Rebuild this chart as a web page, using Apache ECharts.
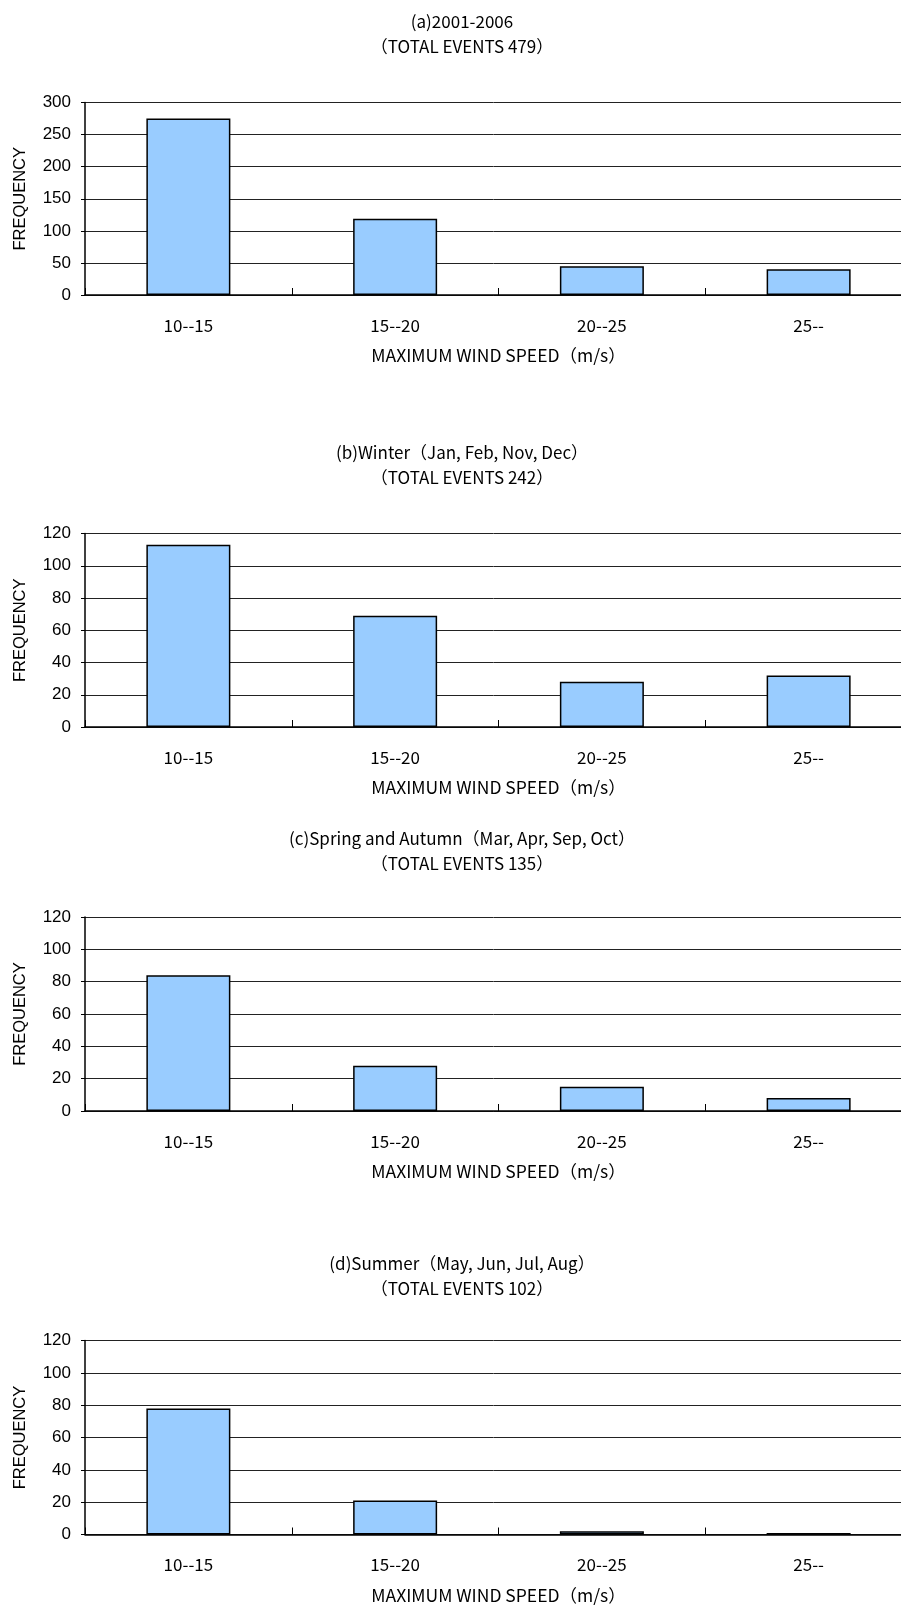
<!DOCTYPE html>
<html>
<head>
<meta charset="utf-8">
<script src="https://cdn.jsdelivr.net/npm/echarts@6/dist/echarts.min.js"></script>
<style>
  html, body { margin: 0; padding: 0; background: #fff; }
  #chart { width: 901px; height: 1606px; }
</style>
</head>
<body>
<div id="chart"></div>
<script>
// Wind-speed classes shared by all four panels
const categories = ['10--15', '15--20', '20--25', '25--'];

// Event counts per class
const allYears = [275, 119, 45, 40];
const winter = [113, 69, 28, 32];
const springAutumn = [84, 28, 15, 8];
const summer = [78, 21, 2, 1];

// Panel headings and totals
const panelTitles = [
  '(a)2001-2006',
  '(b)Winter（Jan, Feb, Nov, Dec）',
  '(c)Spring and Autumn（Mar, Apr, Sep, Oct）',
  '(d)Summer（May, Jun, Jul, Aug）'
];
const totalEvents = [479, 242, 135, 102];

// Y scales
const yMax = [300, 120, 120, 120];
const yStep = [50, 20, 20, 20];

const xName = 'MAXIMUM WIND SPEED（m/s）';
const yName = 'FREQUENCY';

const seriesData = [allYears, winter, springAutumn, summer];

// Panel placement (pixels); the plot runs past the right edge of the page
const gridTops = [102.5, 533.5, 917, 1340.5];
const gridHeights = [192.5, 193.5, 194, 194];
const titleTops = [4, 435, 821, 1246];

const jpFont = '"Noto Sans CJK JP", "Noto Sans", sans-serif';
const latinFont = '"Liberation Sans", Arial, sans-serif';

const chart = echarts.init(document.getElementById('chart'), null, { renderer: 'canvas' });

const option = {
  backgroundColor: '#ffffff',
  animation: false,
  title: panelTitles.map((t, i) => ({
    text: t + '\n（TOTAL EVENTS ' + totalEvents[i] + '）',
    left: 457,
    top: titleTops[i],
    textAlign: 'center',
    textStyle: {
      fontFamily: jpFont,
      fontSize: 17,
      fontWeight: 'normal',
      color: '#000',
      lineHeight: 25
    }
  })),
  grid: gridTops.map((top, i) => ({
    left: 85,
    top: top,
    width: 827,
    height: gridHeights[i],
    containLabel: false,
    outerBoundsMode: 'none'
  })),
  xAxis: seriesData.map((_, i) => ({
    type: 'category',
    gridIndex: i,
    data: categories,
    boundaryGap: true,
    name: xName,
    nameLocation: 'middle',
    nameGap: 52,
    nameTextStyle: { fontFamily: jpFont, fontSize: 17.5, color: '#000' },
    axisLine: { show: true, lineStyle: { color: '#000', width: 1.5 } },
    axisTick: { show: true, inside: true, length: 7, alignWithLabel: false, lineStyle: { color: '#000', width: 1 } },
    axisLabel: { fontFamily: jpFont, fontSize: 17, color: '#000', margin: 22 },
    splitLine: { show: false }
  })),
  yAxis: seriesData.map((_, i) => ({
    type: 'value',
    gridIndex: i,
    min: 0,
    max: yMax[i],
    interval: yStep[i],
    name: yName,
    nameLocation: 'middle',
    nameRotate: 90,
    nameGap: 56,
    nameTextStyle: { fontFamily: latinFont, fontSize: 16.5, color: '#000' },
    axisLine: { show: true, lineStyle: { color: '#000', width: 1.5 } },
    axisTick: { show: true, length: 4, lineStyle: { color: '#000', width: 1 } },
    axisLabel: { fontFamily: latinFont, fontSize: 17, color: '#000', margin: 14 },
    splitLine: { show: true, lineStyle: { color: '#222', width: 1 } }
  })),
  series: seriesData.map((d, i) => ({
    type: 'bar',
    xAxisIndex: i,
    yAxisIndex: i,
    data: d,
    barWidth: 84,
    itemStyle: { color: '#99ccff', borderColor: '#000', borderWidth: 1.5 }
  }))
};

chart.setOption(option);
</script>
</body>
</html>
